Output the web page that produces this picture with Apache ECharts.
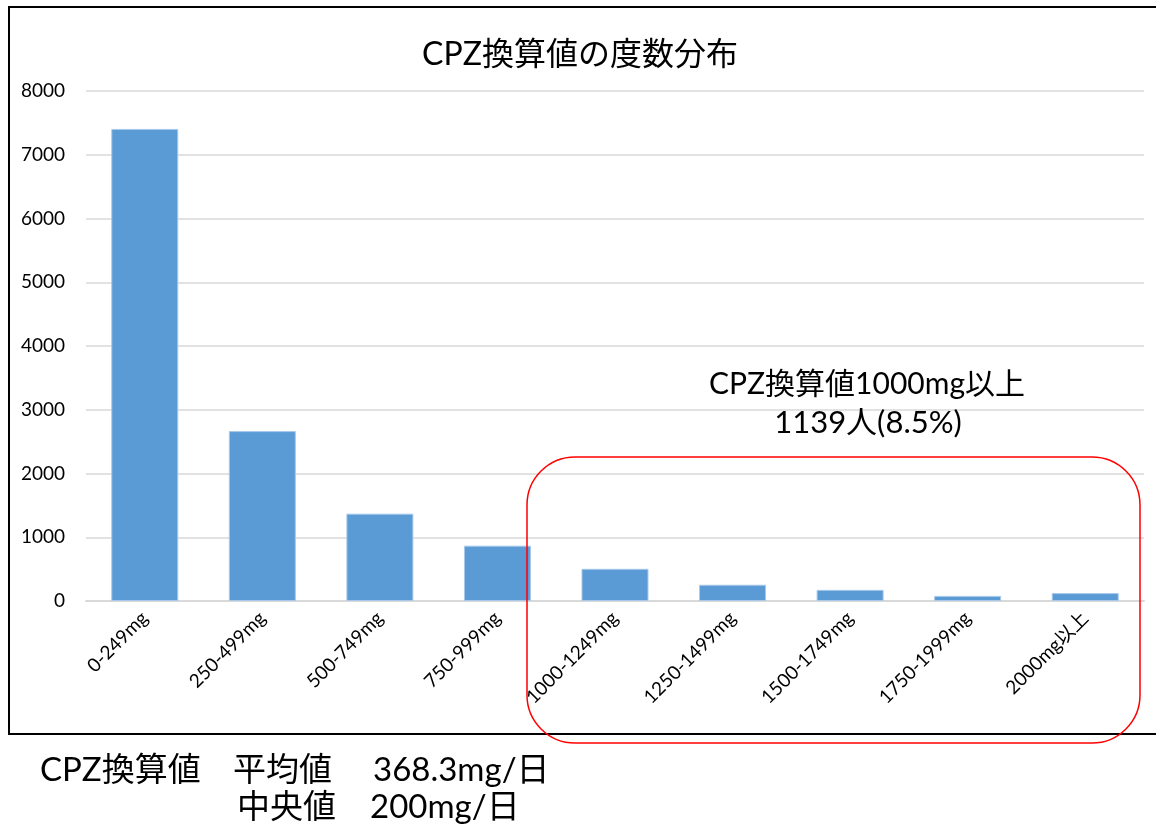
<!DOCTYPE html>
<html>
<head>
<meta charset="utf-8">
<script src="https://cdn.jsdelivr.net/npm/echarts@6/dist/echarts.min.js"></script>
<style>
  html, body { margin: 0; padding: 0; background: #fff; }
  #chart { width: 1156px; height: 825px; }
</style>
</head>
<body>
<div id="chart"></div>
<script>
// Dose bins (chlorpromazine-equivalent, mg/day) and patient counts per bin
const categories = ['0-249mg', '250-499mg', '500-749mg', '750-999mg', '1000-1249mg',
                    '1250-1499mg', '1500-1749mg', '1750-1999mg', '2000mg以上'];
const counts = [7405, 2665, 1370, 868, 505, 255, 175, 80, 124];
const yTicks = [0, 1000, 2000, 3000, 4000, 5000, 6000, 7000, 8000];

const titleText = 'CPZ換算値の度数分布';
const noteLines = ['CPZ換算値1000mg以上', '1139人(8.5%)'];
const summaryRow1 = ['CPZ換算値', '平均値', '368.3mg/日'];
const summaryRow2 = ['中央値', '200mg/日'];

const FONT = 'Lato, "Noto Sans CJK JP", sans-serif';

const chart = echarts.init(document.getElementById('chart'), null, { renderer: 'canvas' });

function txt(x, y, text, size, align) {
  return {
    type: 'text', x: x, y: y, z: 10,
    style: {
      text: text, fill: '#000', font: size + 'px ' + FONT,
      textAlign: align || 'left', textVerticalAlign: 'middle'
    }
  };
}

chart.setOption({
  animation: false,
  backgroundColor: '#fff',
  grid: { left: 86, right: 12, top: 91, bottom: 224, containLabel: false },
  xAxis: {
    type: 'category',
    data: categories,
    axisLine: { show: true, lineStyle: { color: '#d9d9d9', width: 2 } },
    axisTick: { show: false },
    axisLabel: {
      rotate: 45, interval: 0, margin: 14,
      color: '#000', fontSize: 19, fontFamily: FONT
    }
  },
  yAxis: {
    type: 'value',
    min: yTicks[0], max: yTicks[yTicks.length - 1], interval: yTicks[1] - yTicks[0],
    axisLine: { show: false },
    axisTick: { show: false },
    splitLine: { lineStyle: { color: '#d9d9d9', width: 1.5 } },
    axisLabel: {
      color: '#000', fontSize: 19, fontFamily: FONT, margin: 21,
      formatter: function (v) { return String(v); }
    }
  },
  series: [{
    type: 'bar',
    data: counts,
    barCategoryGap: '43%',
    itemStyle: { color: '#5b9bd5', borderColor: '#a8c9ea', borderWidth: 1 }
  }],
  graphic: [
    // outer frame of the chart area
    {
      type: 'rect', z: 5,
      shape: { x: 9, y: 7, width: 1160, height: 727 },
      style: { fill: 'none', stroke: '#000', lineWidth: 2 }
    },
    txt(580, 55, titleText, 32, 'center'),
    txt(867, 384, noteLines[0], 30, 'center'),
    txt(868, 423, noteLines[1], 31, 'center'),
    // highlight around the high-dose bins
    {
      type: 'rect', z: 9,
      shape: { x: 527, y: 457, width: 613, height: 286, r: 48 },
      style: { fill: 'none', stroke: '#ff0000', lineWidth: 1.5 }
    },
    txt(40, 770, summaryRow1[0], 33),
    txt(233, 770, summaryRow1[1], 33),
    txt(373, 770, summaryRow1[2], 33),
    txt(237, 807, summaryRow2[0], 33),
    txt(370, 807, summaryRow2[1], 33)
  ]
});
</script>
</body>
</html>
